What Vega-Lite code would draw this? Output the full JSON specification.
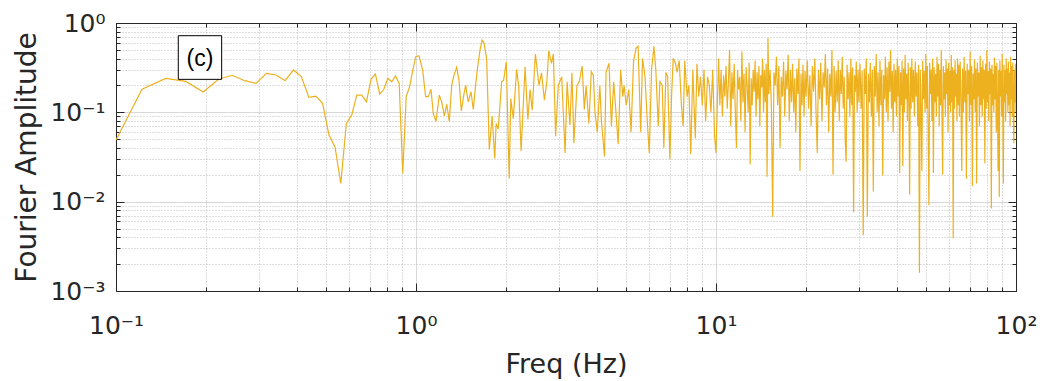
{
"$schema": "https://vega.github.io/schema/vega-lite/v6.json",
"width": 900, "height": 268,
"autosize": "none",
"padding": {"left": 116, "top": 23, "right": 27, "bottom": 90},
"background": "white",
"config": {"view": {"stroke": null}, "font": "DejaVu Sans"},
"datasets": {
"spec": [
{"f":0.1,"a":0.049},{"f":0.1221,"a":0.181},{"f":0.1465,"a":0.24},{"f":0.1709,"a":0.222},{"f":0.1953,"a":0.169},{"f":0.2197,"a":0.235},{"f":0.2441,"a":0.26},{"f":0.2686,"a":0.226},{"f":0.293,"a":0.211},{"f":0.3174,"a":0.273},{"f":0.3418,"a":0.262},{"f":0.3662,"a":0.226},{"f":0.3906,"a":0.298},{"f":0.415,"a":0.25},{"f":0.4395,"a":0.147},{"f":0.4639,"a":0.152},{"f":0.4883,"a":0.126},{"f":0.5127,"a":0.0557},{"f":0.5371,"a":0.041},{"f":0.5615,"a":0.016},{"f":0.5859,"a":0.075},{"f":0.6104,"a":0.093},{"f":0.6348,"a":0.156},{"f":0.6592,"a":0.156},{"f":0.6836,"a":0.131},{"f":0.708,"a":0.234},{"f":0.7324,"a":0.268},{"f":0.7568,"a":0.16},{"f":0.7813,"a":0.181},{"f":0.8057,"a":0.24},{"f":0.8301,"a":0.22},{"f":0.8545,"a":0.255},{"f":0.8789,"a":0.211},{"f":0.9033,"a":0.0207},{"f":0.9277,"a":0.15},{"f":0.9521,"a":0.194},{"f":0.9766,"a":0.3},
{"f":0.998,"a":0.42},{"f":1.023,"a":0.43},{"f":1.052,"a":0.298},{"f":1.077,"a":0.15},{"f":1.099,"a":0.15},{"f":1.122,"a":0.181},{"f":1.142,"a":0.097},{"f":1.166,"a":0.079},{"f":1.196,"a":0.156},{"f":1.218,"a":0.131},{"f":1.243,"a":0.091},{"f":1.266,"a":0.123},{"f":1.291,"a":0.079},{"f":1.315,"a":0.2},{"f":1.339,"a":0.262},{"f":1.366,"a":0.319},{"f":1.391,"a":0.23},{"f":1.416,"a":0.104},{"f":1.44,"a":0.15},{"f":1.464,"a":0.202},{"f":1.493,"a":0.131},{"f":1.525,"a":0.17},{"f":1.552,"a":0.108},{"f":1.58,"a":0.2},{"f":1.605,"a":0.324},{"f":1.635,"a":0.5},{"f":1.66,"a":0.645},{"f":1.685,"a":0.6},{"f":1.72,"a":0.4},{"f":1.755,"a":0.0385},{"f":1.794,"a":0.091},{"f":1.83,"a":0.0305},{"f":1.85,"a":0.075},{"f":1.88,"a":0.065},{"f":1.93,"a":0.22},{"f":1.96,"a":0.23},{"f":2.0,"a":0.369},{"f":2.045,"a":0.0182},{"f":2.07,"a":0.143},{"f":2.11,"a":0.085},{"f":2.165,"a":0.303},{"f":2.2,"a":0.194},{"f":2.24,"a":0.037},{"f":2.31,"a":0.324},{"f":2.36,"a":0.083},{"f":2.4,"a":0.18},{"f":2.44,"a":0.106},{"f":2.5,"a":0.45},{"f":2.57,"a":0.2},{"f":2.62,"a":0.277},{"f":2.68,"a":0.137},{"f":2.73,"a":0.22},{"f":2.77,"a":0.49},{"f":2.83,"a":0.354},{"f":2.87,"a":0.45},{"f":2.92,"a":0.054},{"f":2.98,"a":0.2},{"f":3.06,"a":0.25},{"f":3.14,"a":0.035},{"f":3.19,"a":0.22},{"f":3.26,"a":0.072},{"f":3.31,"a":0.277},{"f":3.36,"a":0.045},{"f":3.44,"a":0.2},{"f":3.5,"a":0.22},{"f":3.58,"a":0.33},{"f":3.64,"a":0.108},{"f":3.69,"a":0.2},{"f":3.77,"a":0.075},{"f":3.84,"a":0.285},{"f":3.9,"a":0.26},{"f":3.95,"a":0.1},{"f":4.02,"a":0.06},{"f":4.1,"a":0.2},{"f":4.15,"a":0.08},{"f":4.25,"a":0.032},{"f":4.3,"a":0.28},{"f":4.4,"a":0.354},{"f":4.48,"a":0.07},{"f":4.56,"a":0.22},{"f":4.64,"a":0.1},{"f":4.72,"a":0.044},{"f":4.81,"a":0.3},{"f":4.89,"a":0.15},{"f":4.94,"a":0.2},{"f":5.02,"a":0.12},{"f":5.12,"a":0.18},{"f":5.21,"a":0.06},{"f":5.31,"a":0.369},{"f":5.41,"a":0.52},{"f":5.5,"a":0.55},{"f":5.61,"a":0.06},{"f":5.69,"a":0.4},{"f":5.8,"a":0.25},{"f":5.9,"a":0.08},{"f":5.99,"a":0.035},{"f":6.1,"a":0.3},{"f":6.21,"a":0.55},{"f":6.3,"a":0.3},{"f":6.42,"a":0.07},{"f":6.5,"a":0.22},{"f":6.62,"a":0.2},{"f":6.7,"a":0.04},{"f":6.81,"a":0.28},{"f":6.9,"a":0.25},{"f":7.02,"a":0.03},{"f":7.11,"a":0.15},{"f":7.2,"a":0.403},{"f":7.33,"a":0.35},{"f":7.42,"a":0.28},{"f":7.54,"a":0.38},{"f":7.67,"a":0.12},{"f":7.77,"a":0.07},{"f":7.87,"a":0.38},{"f":8.01,"a":0.15},{"f":8.12,"a":0.2},{"f":8.24,"a":0.034},{"f":8.37,"a":0.3},{"f":8.53,"a":0.051},{"f":8.64,"a":0.35},{"f":8.76,"a":0.15},{"f":8.88,"a":0.25},{"f":9.0,"a":0.12},{"f":9.12,"a":0.3},{"f":9.24,"a":0.08},{"f":9.37,"a":0.25},{"f":9.5,"a":0.2},{"f":9.62,"a":0.1},{"f":9.75,"a":0.3},{"f":9.89,"a":0.055},{"f":10.0,"a":0.035},{"f":10.2,"a":0.4},
{"f":10.3,"a":0.12},{"f":10.4,"a":0.3},{"f":10.5,"a":0.09},{"f":10.6,"a":0.26},{"f":10.7,"a":0.15},{"f":10.8,"a":0.33},{"f":10.9,"a":0.11},{"f":11.0,"a":0.22},{"f":11.1,"a":0.5},{"f":11.2,"a":0.07},{"f":11.3,"a":0.28},{"f":11.4,"a":0.14},{"f":11.5,"a":0.35},{"f":11.6,"a":0.1},{"f":11.7,"a":0.04},{"f":11.8,"a":0.3},{"f":11.9,"a":0.18},{"f":12.0,"a":0.25},{"f":12.1,"a":0.08},{"f":12.2,"a":0.48},{"f":12.3,"a":0.13},{"f":12.4,"a":0.27},{"f":12.5,"a":0.06},{"f":12.6,"a":0.32},{"f":12.7,"a":0.2},{"f":12.8,"a":0.1},{"f":12.9,"a":0.36},{"f":13.0,"a":0.026},{"f":13.1,"a":0.24},{"f":13.2,"a":0.12},{"f":13.3,"a":0.3},{"f":13.4,"a":0.17},{"f":13.5,"a":0.38},{"f":13.6,"a":0.09},{"f":13.7,"a":0.28},{"f":13.8,"a":0.14},{"f":13.9,"a":0.33},{"f":14.0,"a":0.07},{"f":14.1,"a":0.26},{"f":14.2,"a":0.19},{"f":14.3,"a":0.4},{"f":14.4,"a":0.1},{"f":14.5,"a":0.3},{"f":14.6,"a":0.13},{"f":14.7,"a":0.35},{"f":14.8,"a":0.019},{"f":14.9,"a":0.68},{"f":15.0,"a":0.16},
{"f":15.15,"a":0.3},{"f":15.3,"a":0.11},{"f":15.45,"a":0.0068},{"f":15.6,"a":0.28},{"f":15.75,"a":0.2},{"f":15.9,"a":0.42},{"f":16.05,"a":0.12},{"f":16.2,"a":0.33},{"f":16.35,"a":0.04},{"f":16.5,"a":0.25},{"f":16.65,"a":0.15},{"f":16.8,"a":0.37},{"f":16.95,"a":0.09},{"f":17.1,"a":0.29},{"f":17.25,"a":0.18},{"f":17.4,"a":0.44},{"f":17.55,"a":0.08},{"f":17.7,"a":0.3},{"f":17.85,"a":0.13},{"f":18.0,"a":0.35},{"f":18.15,"a":0.1},{"f":18.3,"a":0.24},{"f":18.45,"a":0.06},{"f":18.6,"a":0.31},{"f":18.75,"a":0.16},{"f":18.9,"a":0.4},{"f":19.05,"a":0.022},{"f":19.2,"a":0.27},{"f":19.35,"a":0.12},{"f":19.5,"a":0.34},{"f":19.65,"a":0.09},{"f":19.8,"a":0.29},{"f":19.95,"a":0.15},
{"f":20.15,"a":0.38},{"f":20.35,"a":0.11},{"f":20.55,"a":0.26},{"f":20.75,"a":0.07},{"f":20.95,"a":0.33},{"f":21.15,"a":0.17},{"f":21.35,"a":0.4},{"f":21.55,"a":0.1},{"f":21.75,"a":0.035},{"f":21.95,"a":0.3},{"f":22.15,"a":0.14},{"f":22.35,"a":0.36},{"f":22.55,"a":0.08},{"f":22.75,"a":0.28},{"f":22.95,"a":0.19},{"f":23.15,"a":0.45},{"f":23.35,"a":0.12},{"f":23.55,"a":0.31},{"f":23.75,"a":0.06},{"f":23.95,"a":0.27},{"f":24.15,"a":0.15},{"f":24.35,"a":0.5},{"f":24.55,"a":0.02},{"f":24.75,"a":0.33},{"f":24.95,"a":0.1},{"f":25.15,"a":0.29},{"f":25.35,"a":0.13},{"f":25.55,"a":0.38},{"f":25.75,"a":0.08},{"f":25.95,"a":0.3},{"f":26.15,"a":0.16},{"f":26.35,"a":0.42},{"f":26.55,"a":0.11},{"f":26.75,"a":0.25},{"f":26.95,"a":0.05},{"f":27.15,"a":0.028},{"f":27.35,"a":0.34},{"f":27.55,"a":0.14},{"f":27.75,"a":0.28},{"f":27.95,"a":0.09},{"f":28.15,"a":0.4},{"f":28.35,"a":0.12},{"f":28.55,"a":0.32},{"f":28.75,"a":0.0076},{"f":28.95,"a":0.26},{"f":29.15,"a":0.17},{"f":29.35,"a":0.37},{"f":29.55,"a":0.1},{"f":29.75,"a":0.3},{"f":29.95,"a":0.13},
{"f":30.2,"a":0.35},{"f":30.45,"a":0.11},{"f":30.7,"a":0.29},{"f":30.95,"a":0.0042},{"f":31.2,"a":0.31},{"f":31.45,"a":0.16},{"f":31.7,"a":0.4},{"f":31.95,"a":0.0068},{"f":32.2,"a":0.27},{"f":32.45,"a":0.13},{"f":32.7,"a":0.36},{"f":32.95,"a":0.09},{"f":33.2,"a":0.3},{"f":33.45,"a":0.013},{"f":33.7,"a":0.33},{"f":33.95,"a":0.15},{"f":34.2,"a":0.45},{"f":34.45,"a":0.1},{"f":34.7,"a":0.28},{"f":34.95,"a":0.07},{"f":35.2,"a":0.38},{"f":35.45,"a":0.12},{"f":35.7,"a":0.3},{"f":35.95,"a":0.0196},{"f":36.2,"a":0.26},{"f":36.45,"a":0.14},{"f":36.7,"a":0.42},{"f":36.95,"a":0.1},{"f":37.2,"a":0.32},{"f":37.45,"a":0.08},{"f":37.7,"a":0.37},{"f":37.95,"a":0.17},{"f":38.2,"a":0.5},{"f":38.45,"a":0.11},{"f":38.7,"a":0.29},{"f":38.95,"a":0.06},{"f":39.2,"a":0.35},{"f":39.45,"a":0.13},{"f":39.7,"a":0.3},{"f":39.95,"a":0.09},{"f":40.2,"a":0.4},{"f":40.45,"a":0.15},{"f":40.7,"a":0.33},{"f":40.95,"a":0.021},{"f":41.2,"a":0.28},{"f":41.45,"a":0.12},{"f":41.7,"a":0.38},{"f":41.95,"a":0.025},{"f":42.2,"a":0.31},{"f":42.45,"a":0.1},{"f":42.7,"a":0.44},{"f":42.95,"a":0.14},{"f":43.2,"a":0.27},{"f":43.45,"a":0.08},{"f":43.7,"a":0.36},{"f":43.95,"a":0.16},{"f":44.2,"a":0.012},{"f":44.45,"a":0.32},{"f":44.7,"a":0.11},{"f":44.95,"a":0.4},
{"f":45.25,"a":0.13},{"f":45.55,"a":0.3},{"f":45.85,"a":0.09},{"f":46.15,"a":0.37},{"f":46.45,"a":0.15},{"f":46.75,"a":0.28},{"f":47.05,"a":0.07},{"f":47.35,"a":0.34},{"f":47.65,"a":0.0016},{"f":47.95,"a":0.3},{"f":48.25,"a":0.12},{"f":48.55,"a":0.022},{"f":48.85,"a":0.38},{"f":49.15,"a":0.14},{"f":49.45,"a":0.29},{"f":49.75,"a":0.1},{"f":50.05,"a":0.45},{"f":50.35,"a":0.11},{"f":50.65,"a":0.33},{"f":50.95,"a":0.06},{"f":51.25,"a":0.0091},{"f":51.55,"a":0.36},{"f":51.85,"a":0.16},{"f":52.15,"a":0.3},{"f":52.45,"a":0.08},{"f":52.75,"a":0.4},{"f":53.05,"a":0.021},{"f":53.35,"a":0.32},{"f":53.65,"a":0.13},{"f":53.95,"a":0.27},{"f":54.25,"a":0.09},{"f":54.55,"a":0.42},{"f":54.85,"a":0.15},{"f":55.15,"a":0.35},{"f":55.45,"a":0.07},{"f":55.75,"a":0.3},{"f":56.05,"a":0.12},{"f":56.35,"a":0.5},{"f":56.65,"a":0.1},{"f":56.95,"a":0.02},{"f":57.25,"a":0.33},{"f":57.55,"a":0.14},{"f":57.85,"a":0.28},{"f":58.15,"a":0.09},{"f":58.45,"a":0.39},{"f":58.75,"a":0.16},{"f":59.05,"a":0.31},{"f":59.35,"a":0.06},{"f":59.65,"a":0.36},{"f":59.95,"a":0.12},{"f":60.25,"a":0.29},{"f":60.55,"a":0.1},{"f":60.85,"a":0.44},{"f":61.15,"a":0.13},{"f":61.45,"a":0.32},{"f":61.75,"a":0.0039},{"f":62.05,"a":0.3},{"f":62.35,"a":0.11},{"f":62.65,"a":0.38},{"f":62.95,"a":0.15},{"f":63.25,"a":0.27},{"f":63.55,"a":0.08},{"f":63.85,"a":0.4},{"f":64.15,"a":0.12},{"f":64.45,"a":0.34},{"f":64.75,"a":0.09},
{"f":65.15,"a":0.37},{"f":65.55,"a":0.14},{"f":65.95,"a":0.022},{"f":66.35,"a":0.31},{"f":66.75,"a":0.1},{"f":67.15,"a":0.42},{"f":67.55,"a":0.13},{"f":67.95,"a":0.29},{"f":68.35,"a":0.018},{"f":68.75,"a":0.35},{"f":69.15,"a":0.16},{"f":69.55,"a":0.3},{"f":69.95,"a":0.08},{"f":70.35,"a":0.48},{"f":70.75,"a":0.12},{"f":71.15,"a":0.33},{"f":71.55,"a":0.015},{"f":71.95,"a":0.27},{"f":72.35,"a":0.14},{"f":72.75,"a":0.39},{"f":73.15,"a":0.1},{"f":73.55,"a":0.31},{"f":73.95,"a":0.016},{"f":74.35,"a":0.36},{"f":74.75,"a":0.15},{"f":75.15,"a":0.28},{"f":75.55,"a":0.07},{"f":75.95,"a":0.43},{"f":76.35,"a":0.12},{"f":76.75,"a":0.32},{"f":77.15,"a":0.09},{"f":77.55,"a":0.38},{"f":77.95,"a":0.14},{"f":78.35,"a":0.3},{"f":78.75,"a":0.027},{"f":79.15,"a":0.35},{"f":79.55,"a":0.11},{"f":79.95,"a":0.5},{"f":80.35,"a":0.13},{"f":80.75,"a":0.29},{"f":81.15,"a":0.08},{"f":81.55,"a":0.37},{"f":81.95,"a":0.16},{"f":82.35,"a":0.31},{"f":82.75,"a":0.0084},{"f":83.15,"a":0.34},{"f":83.55,"a":0.12},{"f":83.95,"a":0.27},{"f":84.35,"a":0.1},{"f":84.75,"a":0.41},{"f":85.15,"a":0.14},{"f":85.55,"a":0.33},{"f":85.95,"a":0.06},{"f":86.35,"a":0.36},{"f":86.75,"a":0.11},{"f":87.15,"a":0.022},{"f":87.55,"a":0.3},{"f":87.95,"a":0.0113},{"f":88.35,"a":0.38},{"f":88.75,"a":0.15},{"f":89.15,"a":0.29},{"f":89.55,"a":0.09},{"f":89.95,"a":0.45},{"f":90.35,"a":0.12},{"f":90.75,"a":0.016},{"f":91.15,"a":0.34},{"f":91.55,"a":0.13},{"f":91.95,"a":0.3},{"f":92.35,"a":0.08},{"f":92.75,"a":0.4},{"f":93.15,"a":0.16},{"f":93.55,"a":0.31},{"f":93.95,"a":0.1},{"f":94.35,"a":0.37},{"f":94.75,"a":0.12},{"f":95.15,"a":0.28},{"f":95.55,"a":0.07},{"f":95.95,"a":0.42},{"f":96.35,"a":0.14},{"f":96.75,"a":0.33},{"f":97.15,"a":0.09},{"f":97.55,"a":0.36},{"f":97.95,"a":0.11},{"f":98.35,"a":0.045},{"f":98.75,"a":0.3},{"f":99.15,"a":0.13},{"f":99.55,"a":0.35},{"f":99.95,"a":0.1}
],
"note": [{"label": "(c)", "f1": 0.1613, "f2": 0.225, "a1": 0.721, "a2": 0.234, "fc": 0.1905, "ac": 0.392}]
},
"layer": [
{
"data": {"name": "spec"},
"mark": {"type": "line", "color": "#EDB120", "strokeWidth": 1.2, "clip": true},
"encoding": {
"x": {"field": "f", "type": "quantitative", "sort": null,
 "scale": {"type": "log", "domain": [0.1, 100], "nice": false},
 "axis": {"orient": "bottom",
  "values": [0.1,0.2,0.3,0.4,0.5,0.6,0.7,0.8,0.9,1,2,3,4,5,6,7,8,9,10,20,30,40,50,60,70,80,90,100],
  "labelExpr": "datum.value==0.1?'10⁻¹':datum.value==1?'10⁰':datum.value==10?'10¹':datum.value==100?'10²':''",
  "labelFont": "DejaVu Sans", "labelFontSize": 25, "labelColor": "#262626",
  "labelBaseline": "alphabetic", "labelPadding": 50, "labelFlush": false, "labelOverlap": false, "labelBound": false,
  "tickColor": "#262626", "tickWidth": 1,
  "tickSize": {"condition": {"test": "datum.value==0.1||datum.value==1||datum.value==10||datum.value==100", "value": -8}, "value": -4},
  "grid": true,
  "gridColor": {"condition": {"test": "datum.value==0.1||datum.value==1||datum.value==10||datum.value==100", "value": "#d9d9d9"}, "value": "#bdbdbd"},
  "gridDash": {"condition": {"test": "datum.value==0.1||datum.value==1||datum.value==10||datum.value==100", "value": []}, "value": [1, 2]},
  "domainColor": "#262626", "domainWidth": 1,
  "title": "Freq (Hz)", "titleFont": "DejaVu Sans", "titleFontSize": 27, "titleFontWeight": "normal", "titleColor": "#262626",
  "titleBaseline": "alphabetic", "titleX": 450, "titleY": 81, "titleAnchor": "middle"}},
"y": {"field": "a", "type": "quantitative",
 "scale": {"type": "log", "domain": [0.001, 1], "nice": false},
 "axis": {"orient": "left",
  "values": [0.001,0.002,0.003,0.004,0.005,0.006,0.007,0.008,0.009,0.01,0.02,0.03,0.04,0.05,0.06,0.07,0.08,0.09,0.1,0.2,0.3,0.4,0.5,0.6,0.7,0.8,0.9,1],
  "labelExpr": "datum.value==0.001?'10⁻³':datum.value==0.01?'10⁻²':datum.value==0.1?'10⁻¹':datum.value==1?'10⁰':''",
  "labelFont": "DejaVu Sans", "labelFontSize": 25, "labelColor": "#262626",
  "labelPadding": 19, "labelFlush": false, "labelOverlap": false, "labelBound": false,
  "tickColor": "#262626", "tickWidth": 1,
  "tickSize": {"condition": {"test": "datum.value==0.001||datum.value==0.01||datum.value==0.1||datum.value==1", "value": -8}, "value": -4},
  "grid": true,
  "gridColor": {"condition": {"test": "datum.value==0.001||datum.value==0.01||datum.value==0.1||datum.value==1", "value": "#d9d9d9"}, "value": "#bdbdbd"},
  "gridDash": {"condition": {"test": "datum.value==0.001||datum.value==0.01||datum.value==0.1||datum.value==1", "value": []}, "value": [1, 2]},
  "domainColor": "#262626", "domainWidth": 1,
  "title": "Fourier Amplitude", "titleFont": "DejaVu Sans", "titleFontSize": 28, "titleFontWeight": "normal", "titleColor": "#262626",
  "titleBaseline": "alphabetic", "titleX": -81, "titleY": 134, "titleAngle": -90, "titleAnchor": "middle"}}
}
},
{
"data": {"name": "note"},
"mark": {"type": "rect", "fill": "white", "stroke": "#000000", "strokeWidth": 1},
"encoding": {
"x": {"field": "f1", "type": "quantitative", "scale": {"type": "log", "domain": [0.1, 100], "nice": false},
 "axis": {"orient": "top", "values": [0.1,0.2,0.3,0.4,0.5,0.6,0.7,0.8,0.9,1,2,3,4,5,6,7,8,9,10,20,30,40,50,60,70,80,90,100],
  "labels": false, "grid": false, "title": null, "domainColor": "#262626", "tickColor": "#262626",
  "tickSize": {"condition": {"test": "datum.value==0.1||datum.value==1||datum.value==10||datum.value==100", "value": -8}, "value": -4}}},
"x2": {"field": "f2"},
"y": {"field": "a1", "type": "quantitative", "scale": {"type": "log", "domain": [0.001, 1], "nice": false},
 "axis": {"orient": "right", "values": [0.001,0.002,0.003,0.004,0.005,0.006,0.007,0.008,0.009,0.01,0.02,0.03,0.04,0.05,0.06,0.07,0.08,0.09,0.1,0.2,0.3,0.4,0.5,0.6,0.7,0.8,0.9,1],
  "labels": false, "grid": false, "title": null, "domainColor": "#262626", "tickColor": "#262626",
  "tickSize": {"condition": {"test": "datum.value==0.001||datum.value==0.01||datum.value==0.1||datum.value==1", "value": -8}, "value": -4}}},
"y2": {"field": "a2"}
}
},
{
"data": {"name": "note"},
"mark": {"type": "text", "font": "Liberation Sans", "fontSize": 23, "color": "#000000", "align": "center", "baseline": "middle"},
"encoding": {
"x": {"field": "fc", "type": "quantitative", "axis": null},
"y": {"field": "ac", "type": "quantitative", "axis": null},
"text": {"field": "label"}
}
}
],
"resolve": {"axis": {"x": "independent", "y": "independent"}}
}
